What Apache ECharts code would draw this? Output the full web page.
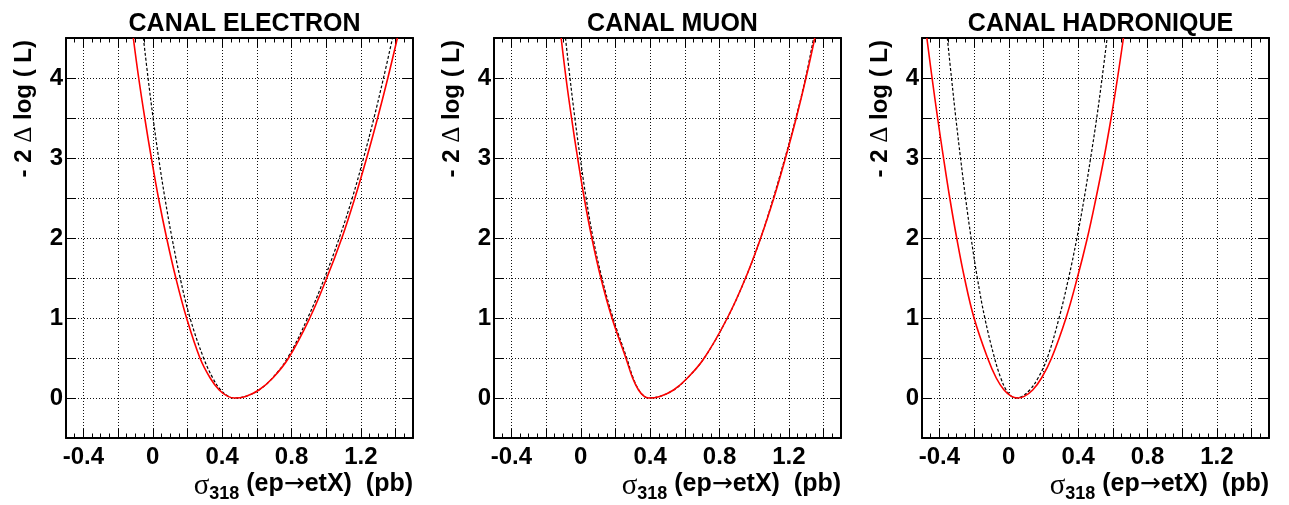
<!DOCTYPE html>
<html>
<head>
<meta charset="utf-8">
<script src="https://cdn.jsdelivr.net/npm/echarts@6/dist/echarts.min.js"></script>
<style>
html, body { margin: 0; padding: 0; background: #fff; }
#main { width: 1289px; height: 505px; }
</style>
</head>
<body>
<div id="main"></div>
<script>
var titles = ['CANAL ELECTRON', 'CANAL MUON', 'CANAL HADRONIQUE'];
var xTickLabels = ['-0.4', '0', '0.4', '0.8', '1.2'];
var yTickLabels = ['0', '1', '2', '3', '4'];

// electron channel : red = full likelihood, dashed = second curve
var elecRedX = [-0.112, -0.081, -0.046, -0.008, 0.033, 0.080, 0.133, 0.195, 0.272, 0.331, 0.383, 0.433, 0.473, 0.535, 0.612, 0.692, 0.783, 0.905, 1.003, 1.090, 1.165, 1.233, 1.296, 1.355, 1.410];
var elecRedY = [4.5, 4.0, 3.5, 3.0, 2.5, 2.0, 1.5, 1.0, 0.5, 0.25, 0.1, 0.02, 0.0, 0.02, 0.1, 0.25, 0.5, 1.0, 1.5, 2.0, 2.5, 3.0, 3.5, 4.0, 4.5];
var elecDashX = [-0.054, -0.027, 0.002, 0.034, 0.070, 0.111, 0.158, 0.215, 0.293, 0.346, 0.392, 0.437, 0.473, 0.535, 0.612, 0.690, 0.777, 0.893, 0.990, 1.075, 1.150, 1.215, 1.275, 1.330, 1.382];
var elecDashY = [4.5, 4.0, 3.5, 3.0, 2.5, 2.0, 1.5, 1.0, 0.5, 0.25, 0.1, 0.02, 0.0, 0.02, 0.1, 0.25, 0.5, 1.0, 1.5, 2.0, 2.5, 3.0, 3.5, 4.0, 4.5];

// muon channel
var muonRedX = [-0.113, -0.085, -0.053, -0.018, 0.020, 0.064, 0.116, 0.180, 0.260, 0.299, 0.333, 0.366, 0.392, 0.456, 0.535, 0.615, 0.712, 0.845, 0.950, 1.037, 1.113, 1.180, 1.242, 1.298, 1.349];
var muonRedY = [4.5, 4.0, 3.5, 3.0, 2.5, 2.0, 1.5, 1.0, 0.5, 0.25, 0.1, 0.02, 0.0, 0.02, 0.1, 0.25, 0.5, 1.0, 1.5, 2.0, 2.5, 3.0, 3.5, 4.0, 4.5];
var muonDashX = [-0.088, -0.062, -0.034, -0.003, 0.031, 0.071, 0.122, 0.186, 0.265, 0.302, 0.335, 0.367, 0.392, 0.456, 0.535, 0.615, 0.712, 0.845, 0.950, 1.037, 1.110, 1.177, 1.240, 1.296, 1.342];
var muonDashY = [4.5, 4.0, 3.5, 3.0, 2.5, 2.0, 1.5, 1.0, 0.5, 0.25, 0.1, 0.02, 0.0, 0.02, 0.1, 0.25, 0.5, 1.0, 1.5, 2.0, 2.5, 3.0, 3.5, 4.0, 4.5];

// hadronic channel
var hadRedX = [-0.472, -0.442, -0.410, -0.376, -0.340, -0.300, -0.255, -0.200, -0.122, -0.072, -0.027, 0.016, 0.050, 0.089, 0.138, 0.189, 0.247, 0.330, 0.395, 0.453, 0.503, 0.549, 0.590, 0.627, 0.661];
var hadRedY = [4.5, 4.0, 3.5, 3.0, 2.5, 2.0, 1.5, 1.0, 0.5, 0.25, 0.1, 0.02, 0.0, 0.02, 0.1, 0.25, 0.5, 1.0, 1.5, 2.0, 2.5, 3.0, 3.5, 4.0, 4.5];
var hadDashX = [-0.354, -0.330, -0.305, -0.278, -0.249, -0.217, -0.181, -0.138, -0.082, -0.046, -0.015, 0.016, 0.040, 0.076, 0.121, 0.169, 0.222, 0.290, 0.345, 0.393, 0.435, 0.472, 0.507, 0.538, 0.567];
var hadDashY = [4.5, 4.0, 3.5, 3.0, 2.5, 2.0, 1.5, 1.0, 0.5, 0.25, 0.1, 0.02, 0.0, 0.02, 0.1, 0.25, 0.5, 1.0, 1.5, 2.0, 2.5, 3.0, 3.5, 4.0, 4.5];

var curves = [
  [elecRedX, elecRedY, elecDashX, elecDashY],
  [muonRedX, muonRedY, muonDashX, muonDashY],
  [hadRedX, hadRedY, hadDashX, hadDashY]
];

function pairs(xs, ys) {
  var out = [];
  for (var i = 0; i < xs.length; i++) out.push([xs[i], ys[i]]);
  return out;
}

function pickLabel(list, v) {
  for (var i = 0; i < list.length; i++) {
    if (Math.abs(parseFloat(list[i]) - v) < 1e-6) return list[i];
  }
  return '';
}

var FONT = 'Liberation Sans';
var gridLefts = [66, 494, 922];
var gridW = 347, gridTop = 38, gridH = 400;
var frameLine = { show: true, onZero: false, lineStyle: { color: '#000', width: 2 } };
var dotted = { show: true, lineStyle: { color: '#111', width: 1, type: [1, 2] } };

var grids = [], xAxes = [], yAxes = [], series = [], titleList = [], graphics = [];

for (var i = 0; i < 3; i++) {
  var L = gridLefts[i], R = L + gridW;
  grids.push({ left: L, top: gridTop, width: gridW, height: gridH });

  // bottom: major ticks / labels / grid, then minor ticks; top: the same mirrored
  ['bottom', 'top'].forEach(function (pos) {
    xAxes.push({
      type: 'value', gridIndex: i, position: pos, min: -0.5, max: 1.5, splitNumber: 10,
      axisLine: frameLine,
      axisTick: { show: true, inside: true, length: 9, lineStyle: { color: '#000', width: 1 } },
      axisLabel: pos === 'bottom' ? {
        show: true, margin: 7, color: '#000', fontSize: 24, fontWeight: 'bold', fontFamily: FONT,
        formatter: function (v) { return pickLabel(xTickLabels, v); }
      } : { show: false },
      splitLine: pos === 'bottom' ? dotted : { show: false }
    });
    xAxes.push({
      type: 'value', gridIndex: i, position: pos, min: -0.5, max: 1.5, interval: 0.05,
      axisLine: { show: false, onZero: false },
      axisTick: { show: true, inside: true, length: 4.5, lineStyle: { color: '#000', width: 1 } },
      axisLabel: { show: false },
      splitLine: { show: false }
    });
  });

  ['left', 'right'].forEach(function (pos) {
    yAxes.push({
      type: 'value', gridIndex: i, position: pos, min: -0.5, max: 4.5, interval: 0.5,
      axisLine: frameLine,
      axisTick: { show: true, inside: true, length: 10, lineStyle: { color: '#000', width: 1 } },
      axisLabel: pos === 'left' ? {
        show: true, margin: 3, color: '#000', fontSize: 24, fontWeight: 'bold', fontFamily: FONT,
        formatter: function (v) { return pickLabel(yTickLabels, v); }
      } : { show: false },
      splitLine: pos === 'left' ? dotted : { show: false }
    });
  });

  var c = curves[i];
  series.push({
    name: 'likelihood', type: 'line', xAxisIndex: i * 4, yAxisIndex: i * 2,
    data: pairs(c[0], c[1]), smooth: 0.4, symbol: 'none', clip: true, z: 4,
    lineStyle: { color: '#ff0000', width: 1.6 }
  });
  series.push({
    name: 'dashed', type: 'line', xAxisIndex: i * 4, yAxisIndex: i * 2,
    data: pairs(c[2], c[3]), smooth: 0.4, symbol: 'none', clip: true, z: 3,
    lineStyle: { color: '#000', width: 1.2, type: [3, 2] }
  });

  titleList.push({
    text: titles[i], left: L + gridW / 2, top: 6, textAlign: 'center',
    textStyle: { fontSize: 25, fontWeight: 'bold', fontFamily: FONT, color: '#000', lineHeight: 26 }
  });

  graphics.push({
    type: 'text', x: R, y: 472,
    style: {
      text: '{g|\u03c3}{s|318}{m| (ep}{a|\u2192}{m|etX)  (pb)}',
      align: 'right', verticalAlign: 'top',
      rich: {
        g: { fontFamily: 'Liberation Serif', fontSize: 29, fill: '#000', verticalAlign: 'top' },
        s: { fontFamily: FONT, fontWeight: 'bold', fontSize: 18, fill: '#000', verticalAlign: 'top', padding: [13, 0, 0, 0] },
        m: { fontFamily: FONT, fontWeight: 'bold', fontSize: 25, fill: '#000', verticalAlign: 'top' },
        a: { fontFamily: 'DejaVu Sans', fontSize: 25, fill: '#000', verticalAlign: 'top' }
      }
    }
  });
  graphics.push({
    type: 'text', x: L - 42, y: gridTop + 2, rotation: Math.PI / 2,
    style: {
      text: '{m|- 2 }{d|\u0394}{m| log ( L)}',
      align: 'right', verticalAlign: 'middle',
      rich: {
        m: { fontFamily: FONT, fontWeight: 'bold', fontSize: 24, fill: '#000', lineHeight: 26 },
        d: { fontFamily: 'Liberation Serif', fontSize: 25, fill: '#000', lineHeight: 26 }
      }
    }
  });
}

var chart = echarts.init(document.getElementById('main'));
chart.setOption({
  animation: false,
  backgroundColor: '#fff',
  title: titleList,
  grid: grids,
  xAxis: xAxes,
  yAxis: yAxes,
  series: series,
  graphic: graphics
});
</script>
</body>
</html>
